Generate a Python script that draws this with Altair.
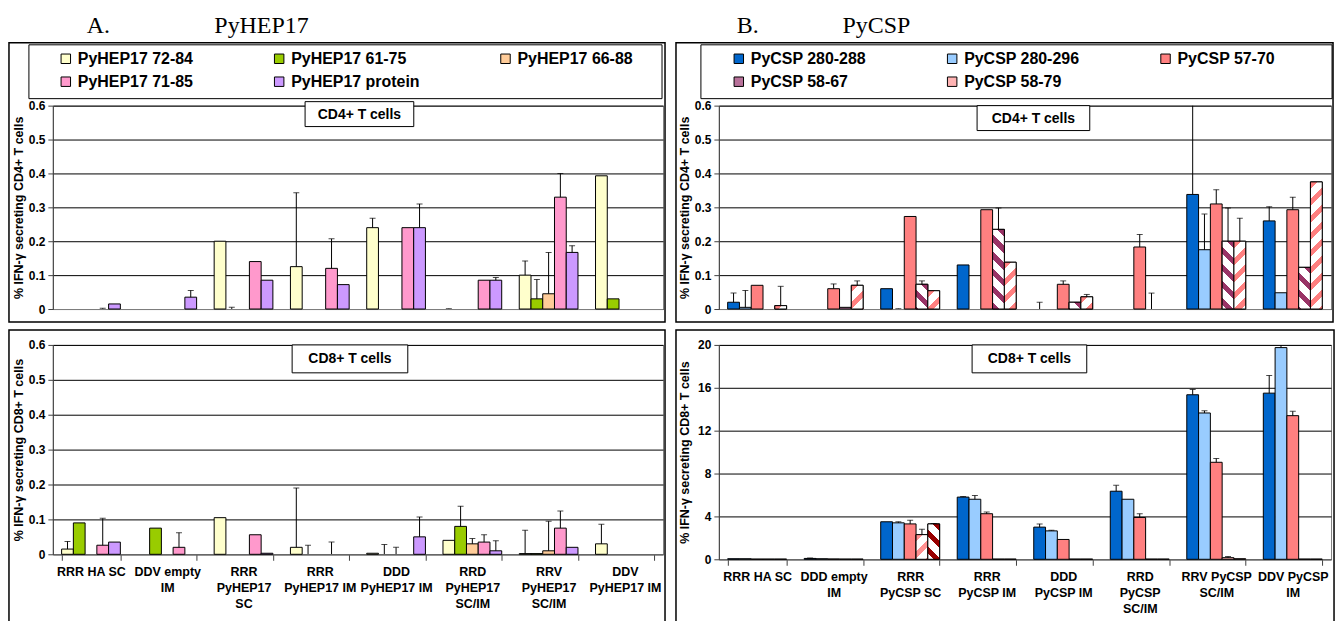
import altair as alt
import pandas as pd

FONT = "Liberation Sans"
SERIF = "Liberation Serif"

# ---------------- Panel A : PyHEP17 ----------------
groups_A = ["RRR HA SC", "DDV empty\nIM", "RRR\nPyHEP17\nSC", "RRR\nPyHEP17 IM",
            "DDD\nPyHEP17 IM", "RRD\nPyHEP17\nSC/IM", "RRV\nPyHEP17\nSC/IM", "DDV\nPyHEP17 IM"]
series_A = ["PyHEP17 72-84", "PyHEP17 61-75", "PyHEP17 66-88", "PyHEP17 71-85", "PyHEP17 protein"]
colors_A = ["#FFFFCC", "#99CC00", "#FFCC99", "#FF99CC", "#CC99FF"]

# CD4 (values, upper error limits)
a4_72_84 = [0, 0, 0.2, 0.125, 0.24, 0, 0.1, 0.393]
a4_72_84_err = [None, None, None, 0.343, 0.268, 0.001, 0.142, None]
a4_61_75 = [0, 0, 0, 0, 0, 0, 0.03, 0.03]
a4_61_75_err = [None, None, 0.005, None, None, None, 0.087, None]
a4_66_88 = [0, 0, 0, 0, 0, 0, 0.045, 0]
a4_66_88_err = [None, None, None, None, None, None, 0.167, None]
a4_71_85 = [0, 0, 0.14, 0.12, 0.24, 0.085, 0.33, 0]
a4_71_85_err = [0.002, None, None, 0.207, None, None, 0.4, None]
a4_prot = [0.015, 0.035, 0.085, 0.072, 0.24, 0.085, 0.167, 0]
a4_prot_err = [None, 0.055, None, None, 0.31, 0.093, 0.187, None]

# CD8
a8_72_84 = [0.015, 0, 0.105, 0.02, 0.003, 0.04, 0.002, 0.03]
a8_72_84_err = [0.037, None, None, 0.19, None, None, 0.069, 0.086]
a8_61_75 = [0.09, 0.075, 0, 0, 0, 0.08, 0.002, 0]
a8_61_75_err = [None, None, None, 0.026, 0.028, 0.138, None, None]
a8_66_88 = [0, 0, 0, 0, 0, 0.03, 0.01, 0]
a8_66_88_err = [None, None, None, None, 0.02, 0.045, 0.095, None]
a8_71_85 = [0.026, 0.02, 0.056, 0, 0, 0.035, 0.075, 0]
a8_71_85_err = [0.103, 0.062, None, 0.035, None, 0.056, 0.124, None]
a8_prot = [0.035, 0, 0.003, 0, 0.05, 0.01, 0.02, 0]
a8_prot_err = [None, None, None, None, 0.107, 0.039, None, None]

# ---------------- Panel B : PyCSP ----------------
groups_B = ["RRR HA SC", "DDD empty\nIM", "RRR\nPyCSP SC", "RRR\nPyCSP IM",
            "DDD\nPyCSP IM", "RRD\nPyCSP\nSC/IM", "RRV PyCSP\nSC/IM", "DDV PyCSP\nIM"]
series_B = ["PyCSP 280-288", "PyCSP 280-296", "PyCSP 57-70", "PyCSP 58-67", "PyCSP 58-79"]
colors_B4 = ["#0066CC", "#99CCFF", "#FF8080", "#B8719A", "#FFB3B3"]
colors_B8 = ["#0066CC", "#99CCFF", "#FF8080", "#FFB3B3", "#C06060"]

b4_280_288 = [0.02, 0, 0.06, 0.13, 0, 0, 0.338, 0.26]
b4_280_288_err = [0.047, None, None, None, 0.02, None, 0.62, 0.302]
b4_280_296 = [0.005, 0, 0, 0, 0, 0, 0.175, 0.048]
b4_280_296_err = [0.055, None, 0.001, None, None, None, 0.28, None]
b4_57_70 = [0.07, 0.06, 0.273, 0.293, 0.073, 0.183, 0.31, 0.293]
b4_57_70_err = [None, 0.074, None, None, 0.083, 0.22, 0.352, 0.33]
b4_58_67 = [0, 0.005, 0.073, 0.235, 0.02, 0, 0.2, 0.123]
b4_58_67_err = [None, None, 0.083, 0.298, None, 0.047, 0.298, None]
b4_58_79 = [0.01, 0.07, 0.054, 0.138, 0.036, 0, 0.2, 0.375]
b4_58_79_err = [0.067, 0.083, None, None, 0.043, None, 0.268, None]

b8_280_288 = [0.05, 0.08, 3.5, 5.8, 3.0, 6.35, 15.35, 15.5]
b8_280_288_err = [None, 0.12, None, 5.85, 3.3, 6.9, 15.85, 17.15]
b8_280_296 = [0.05, 0.05, 3.4, 5.6, 2.65, 5.6, 13.65, 19.75]
b8_280_296_err = [None, None, 3.5, 5.95, 2.7, None, 13.85, 20.1]
b8_57_70 = [0.02, 0.03, 3.3, 4.25, 1.85, 3.9, 9.05, 13.4]
b8_57_70_err = [None, None, 3.65, 4.4, None, 4.25, 9.4, 13.8]
b8_58_67 = [0.02, 0.02, 2.3, 0.02, 0.02, 0.02, 0.15, 0.02]
b8_58_67_err = [None, None, 2.8, None, None, None, 0.25, None]
b8_58_79 = [0.02, 0.02, 3.3, 0.02, 0.02, 0.02, 0.05, 0.02]
b8_58_79_err = [None, None, 3.35, None, None, None, None, None]


def make_df(groups, series, values, errors):
    rows = []
    for s, vals, errs in zip(series, values, errors):
        for g, v, e in zip(groups, vals, errs):
            rows.append({"group": g, "series": s, "value": v, "err": e})
    return pd.DataFrame(rows)


def hatch_grad(color, w, h, period, direction, frac=0.42):
    a = w / h
    K = (w + h) / (h * (1 + a * a))
    n = (w + h) / period
    stops = []
    k = 0
    while k < n:
        o0 = round(k / n, 5)
        o1 = round(min((k + frac) / n, 1.0), 5)
        o2 = round(min((k + 1) / n, 1.0), 5)
        stops += [{"offset": o0, "color": color}, {"offset": o1, "color": color},
                  {"offset": o1, "color": "white"}, {"offset": o2, "color": "white"}]
        k += 1
    if direction == "/":
        x1, y1, x2, y2 = 0, 0, a * K, K
    else:
        x1, y1, x2, y2 = 1, 0, 1 - a * K, K
    return {"gradient": "linear", "x1": x1, "y1": y1, "x2": x2, "y2": y2, "stops": stops}


one = pd.DataFrame({"k": [0]})


def vrect(x1, x2, y1, y2, **kw):
    return alt.Chart(one).mark_rect(**kw).encode(
        x=alt.value(x1), x2=alt.value(x2), y=alt.value(y1), y2=alt.value(y2))


def vtext(x, y, text, **kw):
    return alt.Chart(one).mark_text(text=text, **kw).encode(x=alt.value(x), y=alt.value(y))


def panel(df, groups, series, colors, ymax, yvals, width, height, ytitle, xlabels,
          legend, hatch, box, anchor, frame, lbox=None, titles=()):
    xscale = alt.Scale(domain=groups, paddingInner=0.23, paddingOuter=0.115)
    if xlabels:
        xaxis = alt.Axis(title=None, labelExpr="split(datum.label, '\\n')", labelAngle=0,
                         labelFont=FONT, labelFontSize=12.5, labelFontWeight="bold",
                         labelColor="black", labelLineHeight=16, labelPadding=5,
                         labelOverlap=False, tickBand="extent", tickSize=6,
                         tickColor="#404040", domainColor="#808080", labelBaseline="top")
    else:
        xaxis = alt.Axis(title=None, labels=False, ticks=False, domainColor="#808080")
    yaxis = alt.Axis(title=ytitle, values=yvals, format="~g", grid=True, gridColor="black",
                     gridWidth=1, domainColor="#404040", tickColor="#404040", tickSize=5,
                     labelPadding=3, labelFont=FONT, labelFontSize=12, labelFontWeight="bold",
                     labelColor="black", titleFont=FONT, titleFontSize=12.5,
                     titleFontWeight="bold", titleColor="black", titleX=-34,
                     titleY=height / 2, titleBaseline="middle")
    X = alt.X("group:N", scale=xscale, axis=xaxis)
    XO = alt.XOffset("series:N", scale=alt.Scale(domain=series, paddingInner=0, paddingOuter=0))
    yscale = alt.Scale(domain=[0, ymax], nice=False, zero=True)
    Y = alt.Y("value:Q", scale=yscale, axis=yaxis)
    YE = alt.Y("err:Q", scale=yscale, axis=yaxis)
    color = alt.Color("series:N", scale=alt.Scale(domain=series, range=colors), legend=legend)

    layers = [vrect(*anchor, opacity=0),
              vrect(*frame, filled=False, stroke="black", strokeWidth=1.5)]
    if lbox:
        layers.append(vrect(*lbox, filled=False, stroke="black", strokeWidth=1))
    bars = alt.Chart(df[df.value > 0]).mark_bar(stroke="black", strokeWidth=1).encode(
        x=X, xOffset=XO, y=Y, color=color)
    layers.append(bars)
    bw = width / len(groups) * 0.77 / len(series)
    for s, (hcol, direction) in hatch.items():
        sub = df[(df.series == s) & (df.value > 0)]
        for idx in sub.index:
            h = df.loc[idx, "value"] / ymax * height
            if h < 3:
                continue
            grad = hatch_grad(hcol, bw, h, 17, direction)
            layers.append(alt.Chart(df.loc[[idx]]).mark_bar(
                fill=grad, stroke="black", strokeWidth=1).encode(x=X, xOffset=XO, y=Y))
    edf = df[df.err.notna()]
    layers.append(alt.Chart(edf).mark_rule(color="black", strokeWidth=1, clip=True).encode(
        x=X, xOffset=XO, y=Y, y2="err:Q"))
    layers.append(alt.Chart(edf).mark_tick(color="black", thickness=1, size=6,
                                           orient="horizontal", clip=True).encode(
        x=X, xOffset=XO, y=YE))
    bx1, bx2, by1, by2, btext = box
    layers.append(vrect(bx1, bx2, by1, by2, fill="white", stroke="black", strokeWidth=1))
    layers.append(vtext((bx1 + bx2) / 2, (by1 + by2) / 2 + 0.5, btext, font=FONT, fontSize=14,
                        fontWeight="bold", color="black", align="center", baseline="middle"))
    for tx, ty, tt in titles:
        layers.append(vtext(tx, ty, tt, font=SERIF, fontSize=24, color="black",
                            align="left", baseline="alphabetic"))
    return alt.layer(*layers).properties(width=width, height=height)


def legend_def(x, y, cp):
    return alt.Legend(orient="none", legendX=x, legendY=y, columns=3, direction="horizontal",
                      title=None, symbolType="square", symbolSize=90, symbolStrokeColor="black",
                      symbolStrokeWidth=1, symbolOpacity=1, labelFont=FONT, labelFontSize=16,
                      labelFontWeight="bold", labelColor="black", columnPadding=cp,
                      rowPadding=7, labelOffset=4, padding=0, labelLimit=300)


dfA4 = make_df(groups_A, series_A, [a4_72_84, a4_61_75, a4_66_88, a4_71_85, a4_prot],
               [a4_72_84_err, a4_61_75_err, a4_66_88_err, a4_71_85_err, a4_prot_err])
dfA8 = make_df(groups_A, series_A, [a8_72_84, a8_61_75, a8_66_88, a8_71_85, a8_prot],
               [a8_72_84_err, a8_61_75_err, a8_66_88_err, a8_71_85_err, a8_prot_err])
dfB4 = make_df(groups_B, series_B, [b4_280_288, b4_280_296, b4_57_70, b4_58_67, b4_58_79],
               [b4_280_288_err, b4_280_296_err, b4_57_70_err, b4_58_67_err, b4_58_79_err])
dfB8 = make_df(groups_B, series_B, [b8_280_288, b8_280_296, b8_57_70, b8_58_67, b8_58_79],
               [b8_280_288_err, b8_280_296_err, b8_57_70_err, b8_58_67_err, b8_58_79_err])

yv6 = [0, 0.1, 0.2, 0.3, 0.4, 0.5, 0.6]
yv20 = [0, 4, 8, 12, 16, 20]
t4 = "% IFN-\u03b3 secreting CD4+ T cells"
t8 = "% IFN-\u03b3 secreting CD8+ T cells"

A4 = panel(dfA4, groups_A, series_A, colors_A, 0.6, yv6, 612, 204, t4, False,
           legend_def(5, -55, 78), {}, (253, 362, -4, 21, "CD4+ T cells"),
           (-52, 617, -104, 220), (-44, 614, -63, 217), lbox=(-24, 611, -61, -7),
           titles=[(34, -73, "A."), (162, -73, "PyHEP17")])
A8 = panel(dfA8, groups_A, series_A, colors_A, 0.6, yv6, 612, 210, t8, True,
           None, {}, (240, 356, 0, 28, "CD8+ T cells"),
           (-52, 617, -18, 279), (-44, 614, -15, 290))
B4 = panel(dfB4, groups_B, series_B, colors_B4, 0.6, yv6, 614, 204, t4, False,
           legend_def(12, -55, 78),
           {"PyCSP 58-67": ("#993366", "\\"), "PyCSP 58-79": ("#FF8080", "/")},
           (259, 372, 0, 25, "CD4+ T cells"),
           (-49, 625, -104, 220), (-43, 616, -63, 217), lbox=(-18, 615, -61, -7),
           titles=[(18, -73, "B."), (124, -73, "PyCSP")])
B8 = panel(dfB8, groups_B, series_B, colors_B8, 20, yv20, 614, 215, t8, True,
           None,
           {"PyCSP 58-67": ("#FF9090", "/"), "PyCSP 58-79": ("#990000", "\\")},
           (254, 369, 0, 28, "CD8+ T cells"),
           (-49, 625, -18, 279), (-43, 617, -15, 290))

res = dict(x="independent", y="independent", color="independent", xOffset="independent")
left = alt.vconcat(A4, A8, spacing=0).resolve_scale(**res).resolve_legend(color="independent")
right = alt.vconcat(B4, B8, spacing=0).resolve_scale(**res).resolve_legend(color="independent")
chart = (alt.hconcat(left, right, spacing=0)
         .resolve_scale(**res).resolve_legend(color="independent")
         .properties(padding=0, background="white")
         .configure_view(stroke="#808080", strokeWidth=1))

chart.save("out.html", embed_options={"renderer": "svg", "actions": False})
